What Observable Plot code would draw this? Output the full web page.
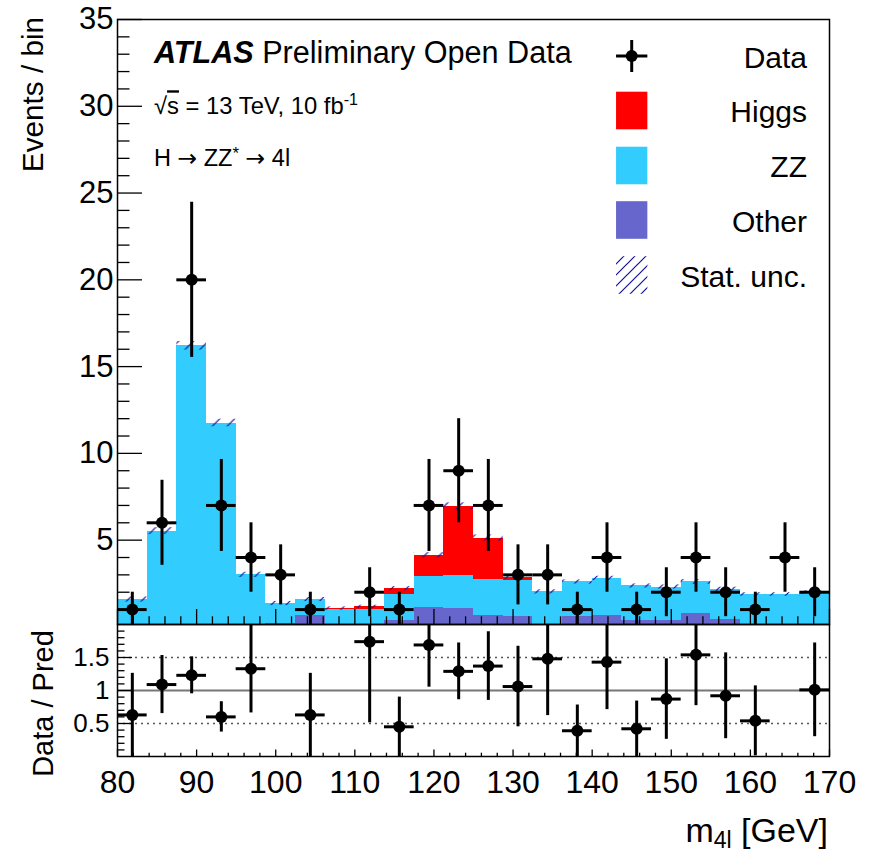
<!DOCTYPE html>
<html>
<head>
<meta charset="utf-8">
<script src="https://cdn.jsdelivr.net/npm/d3@7"></script>
<script src="https://cdn.jsdelivr.net/npm/@observablehq/plot@0.6"></script>
<style>
html, body { margin: 0; padding: 0; background: #fff; }
#chart { position: relative; width: 875px; height: 863px; overflow: hidden; }
#chart svg { position: absolute; left: 0; overflow: visible; }
</style>
</head>
<body>
<div id="chart"></div>
<script>
const FONT = "'Liberation Sans', Arial, Helvetica, sans-serif";

// ---- data ----
const binEdges = [80, 83.75, 87.5, 91.25, 95, 98.75, 102.5, 106.25, 110, 113.75, 117.5, 121.25, 125,
  128.75, 132.5, 136.25, 140, 143.75, 147.5, 151.25, 155, 158.75, 162.5, 166.25, 170];
const otherBkg = [0, 0, 0, 0, 0, 0.2, 0.63, 0, 0, 0.38, 1.12, 1.06, 0.67, 0.58, 0, 0.58, 0.63, 0.39, 0.39, 0.77, 0.42, 0, 0, 0];
const zzBkg    = [1.58, 5.52, 16.2, 11.75, 3.0, 1.15, 0.95, 1.02, 1.02, 1.5, 1.76, 1.88, 2.06, 2.11, 2.02, 2.01, 2.16, 1.97, 1.91, 1.82, 1.75, 1.87, 1.87, 1.98];
const higgsSig = [0, 0, 0, 0, 0, 0, 0, 0.04, 0.13, 0.32, 1.25, 4.01, 2.39, 0.15, 0, 0, 0, 0, 0, 0, 0, 0, 0, 0];
const statUnc  = [0.15, 0.2, 0.25, 0.22, 0.15, 0.12, 0.12, 0.1, 0.1, 0.12, 0.15, 0.2, 0.18, 0.12, 0.12, 0.12, 0.13, 0.12, 0.12, 0.13, 0.12, 0.1, 0.1, 0.1];
const dataCounts = [1, 6, 20, 7, 4, 3, 1, 0, 2, 1, 7, 9, 7, 3, 3, 1, 4, 1, 2, 4, 2, 1, 4, 2];
const dataErr    = [1, 2.45, 4.47, 2.65, 2, 1.73, 1, 0, 1.41, 1, 2.65, 3, 2.65, 1.73, 1.73, 1, 2, 1, 1.41, 2, 1.41, 1, 2, 1.41];
const ratioVal = [0.63, 1.09, 1.23, 0.60, 1.33, null, 0.63, null, 1.74, 0.45, 1.69, 1.29, 1.37, 1.06, 1.48, 0.39, 1.43, 0.42, 0.87, 1.54, 0.92, 0.54, null, 1.01];
const ratioErr = [0.63, 0.44, 0.28, 0.23, 0.67, null, 0.63, null, 1.23, 0.45, 0.64, 0.43, 0.52, 0.61, 0.86, 0.39, 0.72, 0.42, 0.61, 0.77, 0.65, 0.53, null, 0.71];

const compNames  = ["Other", "ZZ", "Higgs"];
const compColors = ["#6666cc", "#33ccff", "#ff0000"];
const compValues = [otherBkg, zzBkg, higgsSig];

const xMajorTicks = [80, 90, 100, 110, 120, 130, 140, 150, 160, 170];
const xMinorTicks = d3.range(82, 170, 2).filter(v => v % 10 !== 0);
const yMajorTicks = [5, 10, 15, 20, 25, 30, 35];
const yMinorTicks = d3.range(1, 35).filter(v => v % 5 !== 0);
const rMajorTicks = [0.5, 1, 1.5];
const rMinorTicks = d3.range(1, 20).filter(i => i % 5 !== 0).map(i => i / 10);

const legendItems = ["Data", "Higgs", "ZZ", "Other", "Stat. unc."];

// ---- tables built from the arrays ----
const bins = dataCounts.map((n, i) => ({
  x1: binEdges[i], x2: binEdges[i + 1], xc: (binEdges[i] + binEdges[i + 1]) / 2,
  n, err: dataErr[i], r: ratioVal[i], rerr: ratioErr[i], unc: statUnc[i]
}));
const stackRows = [];
bins.forEach((b, i) => {
  let base = 0;
  compNames.forEach((name, k) => {
    const v = compValues[k][i];
    if (v > 0) stackRows.push({x1: b.x1, x2: b.x2, y1: base, y2: base + v, comp: name});
    base += v;
  });
  b.total = base;
});
const dataPts = bins.filter(b => b.n > 0);
const ratioPts = bins.filter(b => b.r != null);

const tickStyle = {label: null, tickFormat: () => "", strokeWidth: 1.3};

// ---- upper panel ----
const topPlot = Plot.plot({
  width: 875, height: 630,
  marginLeft: 117, marginRight: 46, marginTop: 19, marginBottom: 6,
  style: {fontFamily: FONT, background: "none", overflow: "visible"},
  x: {domain: [80, 170]},
  y: {domain: [0.14, 35]},
  color: {domain: compNames, range: compColors},
  marks: [
    Plot.rect(stackRows, {x1: "x1", x2: "x2", y1: "y1", y2: "y2", fill: "comp", clip: true, shapeRendering: "crispEdges"}),
    Plot.rect(bins, {x1: "x1", x2: "x2", y1: d => d.total - d.unc, y2: d => d.total + d.unc, fill: "url(#hatch)", clip: true}),
    Plot.axisX({...tickStyle, ticks: xMinorTicks, tickSize: -7.7}),
    Plot.axisX({...tickStyle, ticks: xMajorTicks, tickSize: -15}),
    Plot.axisY({...tickStyle, ticks: yMinorTicks, tickSize: -12.5}),
    Plot.axisY({...tickStyle, ticks: yMajorTicks, tickSize: -25}),
    Plot.axisY({ticks: yMajorTicks, tickSize: 0, tickPadding: 4, fontSize: 31, label: null, tickFormat: d => String(d)}),
    Plot.ruleX(dataPts, {x: "xc", y1: d => d.n - d.err, y2: d => d.n + d.err, strokeWidth: 3, stroke: "black", clip: true}),
    Plot.ruleY(dataPts, {y: "n", x1: "x1", x2: "x2", strokeWidth: 3, stroke: "black", clip: true}),
    Plot.dot(dataPts, {x: "xc", y: "n", r: 6, fill: "black", clip: true}),
    Plot.frame({stroke: "black", strokeWidth: 1.5})
  ]
});
topPlot.style.top = "0px";

// ---- ratio panel ----
const botPlot = Plot.plot({
  width: 875, height: 263,
  marginLeft: 117, marginRight: 46, marginTop: 24, marginBottom: 107,
  style: {fontFamily: FONT, background: "none", overflow: "visible"},
  x: {domain: [80, 170]},
  y: {domain: [0, 2]},
  marks: [
    Plot.ruleY([0.5, 1.5], {stroke: "#555", strokeWidth: 1.5, strokeDasharray: "2,4"}),
    Plot.ruleY([1], {stroke: "#777", strokeWidth: 2}),
    Plot.ruleX(ratioPts, {x: "xc", y1: d => d.r - d.rerr, y2: d => d.r + d.rerr, strokeWidth: 3, stroke: "black", clip: true}),
    Plot.ruleY(ratioPts, {y: "r", x1: "x1", x2: "x2", strokeWidth: 3, stroke: "black", clip: true}),
    Plot.dot(ratioPts, {x: "xc", y: "r", r: 6, fill: "black", clip: true}),
    Plot.axisX({...tickStyle, ticks: xMinorTicks, tickSize: -3.3}),
    Plot.axisX({...tickStyle, ticks: xMajorTicks, tickSize: -6.5}),
    Plot.axisX({ticks: xMajorTicks, tickSize: 0, tickPadding: 14, fontSize: 32, label: null, tickFormat: d => String(d)}),
    Plot.axisY({...tickStyle, ticks: rMinorTicks, tickSize: -7.5}),
    Plot.axisY({...tickStyle, ticks: rMajorTicks, tickSize: -15}),
    Plot.axisY({ticks: rMajorTicks, tickSize: 0, tickPadding: 8, fontSize: 26, label: null, tickFormat: d => String(d)}),
    Plot.frame({stroke: "black", strokeWidth: 1.5})
  ]
});
botPlot.style.top = "600px";

const chart = document.getElementById("chart");
chart.appendChild(topPlot);
chart.appendChild(botPlot);

// ---- hatch patterns, labels and legend ----
const svgT = d3.select(topPlot);
const defs = svgT.insert("defs", ":first-child");
function hatch(id, s) {
  const p = defs.append("pattern").attr("id", id).attr("patternUnits", "userSpaceOnUse")
    .attr("width", s).attr("height", s);
  p.append("path").attr("d", `M0,${s} L${s},0 M${-s / 4},${s / 4} L${s / 4},${-s / 4} M${s * 0.75},${s * 1.25} L${s * 1.25},${s * 0.75}`)
    .attr("stroke", "#10109a").attr("stroke-width", 1.2).attr("fill", "none");
}
hatch("hatch", 14.85);
hatch("hatchL", 11);

const ARROW_FONT = "'DejaVu Sans', 'Liberation Sans', sans-serif";
const gT = svgT.append("g").attr("font-family", FONT).attr("fill", "black").attr("text-anchor", "start");
const atlas = gT.append("text").attr("x", 154).attr("y", 62.7).attr("font-size", 30.6).style("white-space", "pre");
atlas.append("tspan").attr("font-weight", "bold").attr("font-style", "italic").text("ATLAS");
atlas.append("tspan").text(" Preliminary Open Data");

const lumi = gT.append("text").attr("x", 154).attr("y", 114.3).attr("font-size", 23.8).style("white-space", "pre");
lumi.append("tspan").text("√");
lumi.append("tspan").style("text-decoration", "overline").text("s");
lumi.append("tspan").text(" = 13 TeV, 10 fb");
lumi.append("tspan").attr("font-size", 16).attr("dy", -9).text("-1");

const chan = gT.append("text").attr("x", 154).attr("y", 166).attr("font-size", 23.5).style("white-space", "pre");
chan.append("tspan").text("H ");
chan.append("tspan").attr("font-family", ARROW_FONT).text("→");
chan.append("tspan").text(" ZZ");
chan.append("tspan").attr("font-size", 17).attr("dy", -7).text("*");
chan.append("tspan").attr("dy", 7).text(" ");
chan.append("tspan").attr("font-family", ARROW_FONT).text("→");
chan.append("tspan").text(" 4l");

gT.append("text").attr("transform", "translate(43.3,17) rotate(-90)").attr("text-anchor", "end")
  .attr("font-size", 29.7).text("Events / bin");

// legend
const lg = gT.append("g");
const lx = 631.7, bw = 31.3;
const rowY = [56, 110.5, 165.5, 220, 275];
lg.append("line").attr("x1", lx - bw / 2).attr("x2", lx + bw / 2).attr("y1", rowY[0]).attr("y2", rowY[0]).attr("stroke", "black").attr("stroke-width", 3);
lg.append("line").attr("x1", lx).attr("x2", lx).attr("y1", rowY[0] - 16).attr("y2", rowY[0] + 16).attr("stroke", "black").attr("stroke-width", 3);
lg.append("circle").attr("cx", lx).attr("cy", rowY[0]).attr("r", 6).attr("fill", "black");
const boxFills = [compColors[2], compColors[1], compColors[0], "url(#hatchL)"];
boxFills.forEach((f, k) => {
  lg.append("rect").attr("x", lx - bw / 2).attr("y", rowY[k + 1] - 18.8).attr("width", bw).attr("height", 37.6).attr("fill", f);
});
legendItems.forEach((t, k) => {
  lg.append("text").attr("x", 807).attr("y", rowY[k] + 11.5).attr("text-anchor", "end").attr("font-size", 30).text(t);
});

const svgB = d3.select(botPlot);
const gB = svgB.append("g").attr("font-family", FONT).attr("fill", "black").attr("text-anchor", "start");
gB.append("text").attr("transform", "translate(53.3,103.5) rotate(-90)").attr("text-anchor", "middle")
  .attr("font-size", 29).text("Data / Pred");
const xt = gB.append("text").attr("x", 828).attr("y", 241.7).attr("text-anchor", "end").attr("font-size", 34).style("white-space", "pre");
xt.append("tspan").text("m");
xt.append("tspan").attr("font-size", 23).attr("dy", 6.7).text("4l");
xt.append("tspan").attr("dy", -6.7).text(" [GeV]");
</script>
</body>
</html>
